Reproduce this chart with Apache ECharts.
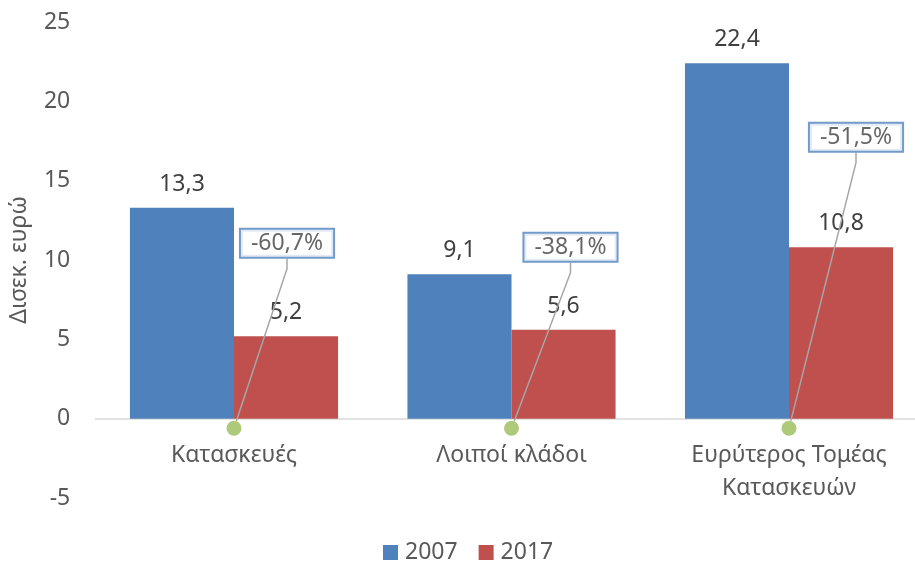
<!DOCTYPE html>
<html>
<head>
<meta charset="utf-8">
<script src="https://cdn.jsdelivr.net/npm/echarts@6/dist/echarts.min.js"></script>
<style>
  html, body { margin: 0; padding: 0; background: #fff; }
  #chart { width: 915px; height: 562px; }
</style>
</head>
<body>
<div id="chart"></div>
<script>
  // data
  const categories = ['Κατασκευές', 'Λοιποί κλάδοι', 'Ευρύτερος Τομέας\nΚατασκευών'];
  const values2007 = [13.3, 9.1, 22.4];
  const values2017 = [5.2, 5.6, 10.8];
  const pctChange = ['-60,7%', '-38,1%', '-51,5%'];
  const markerLevel = [-0.6, -0.6, -0.6];
  const yTicks = { min: -5, max: 25, step: 5 };

  const font = 'Noto Sans';
  const comma = v => String(v).replace('.', ',');

  // where the percent boxes sit relative to their dots
  const boxShift = [[53, -185], [59, -181], [67, -291]];

  const chart = echarts.init(document.getElementById('chart'));
  chart.setOption({
    animation: false,
    textStyle: { fontFamily: font },
    grid: { left: 95.25, top: 22, bottom: 64, width: 832.5, outerBoundsMode: 'none', containLabel: false },
    legend: {
      data: ['2007', '2017'],
      top: 536,
      left: 378,
      icon: 'rect',
      itemWidth: 15,
      itemHeight: 15,
      itemGap: 21,
      textStyle: { fontFamily: font, fontSize: 23, color: '#595959', padding: [0, 0, 0, 2] }
    },
    xAxis: {
      type: 'category',
      data: categories,
      axisLine: { lineStyle: { color: '#D9D9D9', width: 1.5 } },
      axisTick: { show: false },
      // labels sit under the zero line, not under the grid's bottom edge
      axisLabel: { color: '#595959', fontSize: 23, margin: -59, lineHeight: 33, fontFamily: font }
    },
    yAxis: {
      type: 'value',
      min: yTicks.min,
      max: yTicks.max,
      interval: yTicks.step,
      name: 'Δισεκ. ευρώ',
      nameLocation: 'middle',
      nameGap: 64,
      nameTextStyle: { color: '#595959', fontSize: 23, fontFamily: font },
      splitLine: { show: false },
      axisLine: { show: false },
      axisTick: { show: false },
      axisLabel: { color: '#595959', fontSize: 23, margin: 25, fontFamily: font }
    },
    series: [
      {
        name: '2007',
        type: 'bar',
        data: values2007,
        barGap: '0%',
        barCategoryGap: '25%',
        itemStyle: { color: '#4F81BD' },
        label: {
          show: true, position: 'top', distance: 12,
          fontSize: 23, color: '#404040', fontFamily: font,
          formatter: p => comma(p.value)
        }
      },
      {
        name: '2017',
        type: 'bar',
        data: values2017,
        itemStyle: { color: '#C0504D' },
        label: {
          show: true, position: 'top', distance: 12,
          fontSize: 23, color: '#404040', fontFamily: font,
          formatter: p => comma(p.value)
        }
      },
      {
        name: 'Μεταβολή',
        type: 'scatter',
        data: markerLevel,
        symbolSize: 15,
        z: 5,
        itemStyle: { color: '#9BBB59' },
        label: {
          show: true,
          position: 'inside',
          formatter: p => pctChange[p.dataIndex],
          fontSize: 23,
          lineHeight: 25,
          color: '#404040',
          fontFamily: font,
          backgroundColor: '#fff',
          borderColor: '#4F81BD',
          borderWidth: 2,
          padding: [2, 10, 0, 10]
        },
        labelLine: {
          show: true,
          length2: 10,
          lineStyle: { color: '#A6A6A6', width: 1.5 }
        },
        labelLayout: p => ({ dx: boxShift[p.dataIndex][0], dy: boxShift[p.dataIndex][1] })
      }
    ]
  });
</script>
</body>
</html>
